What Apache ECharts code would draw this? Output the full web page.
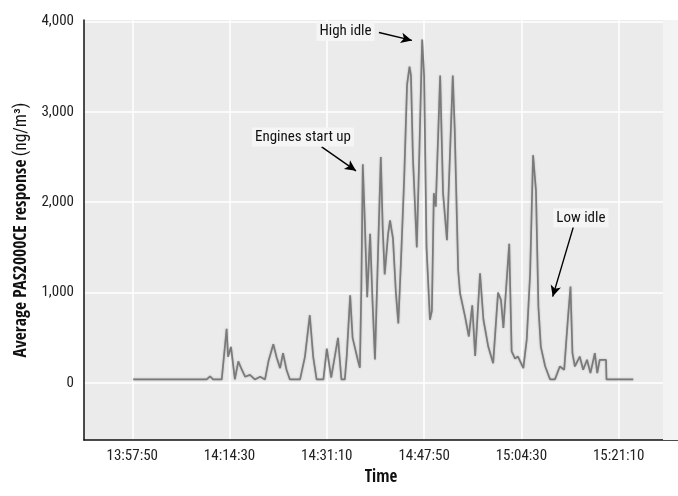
<!DOCTYPE html>
<html><head><meta charset="utf-8">
<script src="https://cdn.jsdelivr.net/npm/echarts@6/dist/echarts.min.js"></script>
<style>html,body{margin:0;padding:0;background:#fff}#c{width:678px;height:496px}</style>
</head><body><div id="c"></div>
<script>
// ---- data ----
const times = ['13:58:00','14:10:35','14:11:10','14:11:40','14:13:10','14:14:00','14:14:15','14:14:45','14:15:25','14:16:00',
'14:16:35','14:17:10','14:18:00','14:18:50','14:19:45','14:20:35','14:21:10','14:22:00','14:22:35','14:23:10',
'14:23:40','14:24:15','14:24:50','14:26:35','14:27:25','14:28:15','14:28:50','14:29:25','14:30:35','14:31:10',
'14:31:55','14:33:05','14:33:40','14:34:15','14:34:35','14:35:10','14:35:35','14:35:55','14:36:30','14:36:50',
'14:37:05','14:37:20','14:37:40','14:38:05','14:38:35','14:39:00','14:39:25','14:39:50','14:40:25','14:40:45',
'14:41:05','14:41:40','14:42:00','14:42:30','14:43:00','14:43:25','14:43:50','14:44:25','14:44:55','14:45:20',
'14:45:35','14:45:55','14:46:35','14:47:00','14:47:30','14:47:50','14:48:15','14:48:50','14:49:10','14:49:30',
'14:49:50','14:50:35','14:51:05','14:51:45','14:52:05','14:52:45','14:53:05','14:53:40','14:54:00','14:54:50',
'14:55:30','14:56:05','14:56:35','14:57:25','14:58:00','14:58:50','14:59:40','15:00:30','15:01:00','15:01:25',
'15:02:25','15:02:50','15:03:25','15:03:55','15:04:50','15:05:25','15:06:00','15:06:30','15:07:00','15:07:25',
'15:07:50','15:08:35','15:09:25','15:10:15','15:11:05','15:11:50','15:12:30','15:12:55','15:13:15','15:13:40',
'15:14:30','15:15:05','15:15:45','15:16:20','15:17:05','15:17:30','15:17:55','15:19:00','15:19:05','15:23:40'];
const values = [40,40,75,40,40,600,290,400,40,240,
150,70,90,40,70,40,240,430,280,165,
330,150,40,40,290,750,290,40,40,380,
60,500,40,40,300,970,500,520,250,170,
1060,2420,1800,950,1650,900,260,1200,2500,1700,
1200,1650,1800,1600,1000,660,1290,2250,3300,3500,
3400,2500,1500,2500,3800,3400,1500,700,800,2100,
1950,3400,2100,1580,2200,3400,2800,1250,990,740,
515,860,300,1214,700,400,220,1000,920,610,
1540,350,270,293,165,480,1214,2520,2130,845,
400,183,40,40,183,147,735,1066,330,183,
293,147,257,110,330,110,257,257,40,40];
const tickLabels = ['13:57:50','14:14:30','14:31:10','14:47:50','15:04:30','15:21:10'];
const yTickValues = [0,1000,2000,3000,4000];
const annotations = [
  {text:'High idle', at:['14:34:22',3888], from:['14:40:06',3877], to:['14:45:45',3789]},
  {text:'Engines start up', at:['14:27:05',2722], from:['14:30:17',2611], to:['14:36:10',2347]},
  {text:'Low idle', at:['15:14:42',1827], from:['15:13:23',1722], to:['15:09:52',956]}
];
// ---- build ----
function toSec(s){const p=s.split(':').map(Number);return p[0]*3600+p[1]*60+p[2];}
function fmt(sec){const h=Math.floor(sec/3600),m=Math.floor(sec%3600/60),s=Math.round(sec%60);
  return h+':'+String(m).padStart(2,'0')+':'+String(s).padStart(2,'0');}
const xTicks = tickLabels.map(toSec);
const seriesData = times.map((t,i)=>[toSec(t),values[i]]);
const REG = "'Roboto Condensed',Roboto,sans-serif";
const BOLD = "'Open Sans Condensed','Roboto Condensed',sans-serif";

const chart = echarts.init(document.getElementById('c'), null, {renderer:'canvas'});
chart.setOption({
  animation:false,
  backgroundColor:'#ffffff',
  grid:{left:84,right:0,top:20,bottom:56,show:true,backgroundColor:'#ebebeb',borderWidth:0},
  xAxis:{type:'value',min:49774,max:55880,
    name:'Time',nameLocation:'middle',nameGap:26,
    nameTextStyle:{fontFamily:BOLD,fontWeight:'bold',fontSize:17,color:'#111'},
    axisLine:{onZero:false,lineStyle:{color:'#111',width:1.5}},
    axisTick:{show:false,customValues:xTicks},
    axisLabel:{customValues:xTicks,formatter:v=>fmt(v),fontFamily:REG,fontSize:15,color:'#222',margin:9},
    splitLine:{show:true,lineStyle:{color:'#ffffff',width:1.5}}},
  yAxis:{type:'value',min:-630,max:4015,
    name:'{b|Average PAS2000CE response} {r|(ng/m³)}',nameLocation:'middle',nameGap:48,nameRotate:90,
    nameTextStyle:{rich:{b:{fontFamily:BOLD,fontWeight:'bold',fontSize:17.5,color:'#111'},r:{fontFamily:REG,fontSize:17.5,color:'#111'}}},
    axisLine:{show:true,onZero:false,lineStyle:{color:'#111',width:1.5}},
    axisTick:{show:false,customValues:yTickValues},
    axisLabel:{customValues:yTickValues,formatter:v=>v.toLocaleString('en-US'),fontFamily:REG,fontSize:15,color:'#222',margin:10},
    splitLine:{show:true,lineStyle:{color:'#ffffff',width:1.5}}},
  series:[{type:'line',data:seriesData,showSymbol:false,symbol:'none',
    lineStyle:{color:'#7a7a7a',width:1.7,shadowBlur:2,shadowColor:'rgba(0,0,0,0.25)'},
    markArea:{silent:true,itemStyle:{color:'#f3f3f3'},data:[[{xAxis:55726},{xAxis:55880}]]},
    markLine:{silent:true,symbol:['none','arrow'],symbolSize:[8,11],label:{show:false},
      lineStyle:{color:'#000',width:1.4,type:'solid'},
      data:annotations.map(a=>[{coord:[toSec(a.from[0]),a.from[1]],symbol:'none'},{coord:[toSec(a.to[0]),a.to[1]],symbol:'arrow'}])},
    markPoint:{silent:true,symbol:'rect',symbolSize:0,
      label:{show:true,position:'inside',fontFamily:REG,fontSize:15,color:'#111',backgroundColor:'#f5f5f5',padding:[2,3]},
      data:annotations.map(a=>({coord:[toSec(a.at[0]),a.at[1]],value:a.text,label:{formatter:a.text}}))}
  }]
});
</script></body></html>
